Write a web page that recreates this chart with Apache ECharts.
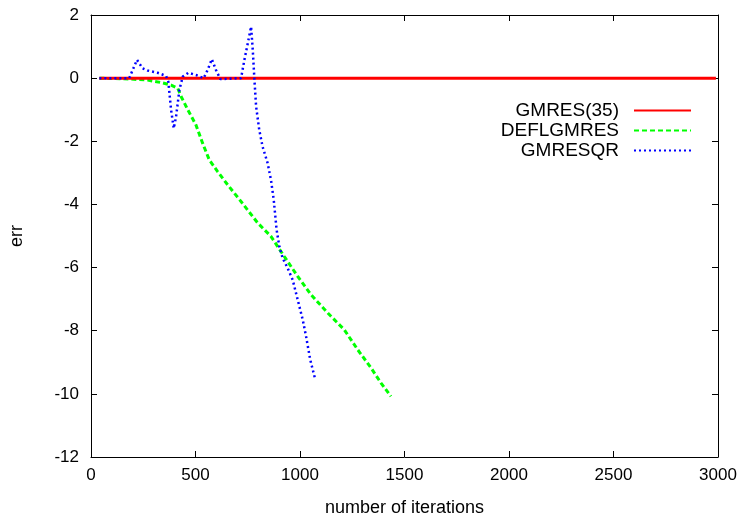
<!DOCTYPE html>
<html><head><meta charset="utf-8">
<script src="https://cdn.jsdelivr.net/npm/echarts@6/dist/echarts.min.js"></script>
<style>html,body{margin:0;padding:0;background:#fff}#c{width:745px;height:522px}</style>
</head><body><div id="c"></div>
<script>
const seriesNames = ["GMRES(35)", "DEFLGMRES", "GMRESQR"];
const gmresX = [40, 2990];
const gmresY = [0, 0];
const deflX = [40, 191, 271, 335, 383, 415, 431, 463, 502, 534, 566, 606, 654, 710, 798, 861, 925, 989, 1053, 1133, 1212, 1276, 1340, 1388, 1435];
const deflY = [0, -0.03, -0.06, -0.14, -0.22, -0.32, -0.58, -1.0, -1.48, -2.06, -2.59, -2.96, -3.38, -3.84, -4.59, -5.01, -5.65, -6.28, -6.86, -7.44, -7.97, -8.6, -9.18, -9.66, -10.08];
const qrX = [40, 183, 220, 247, 271, 319, 359, 370, 383, 396, 407, 423, 439, 466, 502, 539, 558, 578, 598, 619, 718, 734, 750, 766, 774, 782, 790, 805, 821, 845, 861, 874, 888, 901, 917, 941, 965, 989, 1013, 1029, 1049, 1072];
const qrY = [0, 0, 0.58, 0.31, 0.24, 0.17, 0.07, -0.11, -1.0, -1.59, -1.22, -0.37, 0.05, 0.17, 0.1, 0, 0.26, 0.6, 0.26, -0.03, 0, 0.58, 1.1, 1.63, 0.89, -0.06, -0.9, -1.64, -2.17, -2.69, -3.22, -3.83, -4.8, -5.33, -5.7, -6.02, -6.39, -7.02, -7.65, -8.18, -8.92, -9.52];
const xTicks = [0, 500, 1000, 1500, 2000, 2500, 3000];
const yTicks = [2, 0, -2, -4, -6, -8, -10, -12];

const zip = (xs, ys) => xs.map((x, i) => [x, ys[i]]);
const font = "Liberation Sans, Arial, sans-serif";
const chart = echarts.init(document.getElementById('c'), null, {renderer: 'canvas'});
const axisBase = {
  axisLine: {show: true, onZero: false, lineStyle: {color: '#000', width: 1}},
  axisTick: {show: true, inside: true, length: 6, lineStyle: {color: '#000'}},
  splitLine: {show: false}
};
chart.setOption({
  animation: false,
  backgroundColor: '#fff',
  grid: {left: 90, right: 27, top: 15, bottom: 65},
  xAxis: [
    Object.assign({}, axisBase, {
      type: 'value', min: xTicks[0], max: xTicks[xTicks.length - 1], interval: 500,
      name: 'number of iterations', nameLocation: 'middle', nameGap: 42,
      nameTextStyle: {fontSize: 18, color: '#000', fontFamily: font},
      axisLabel: {fontSize: 17, color: '#000', fontFamily: font, margin: 10, formatter: v => String(v)}
    }),
    Object.assign({}, axisBase, {
      type: 'value', position: 'top', min: xTicks[0], max: xTicks[xTicks.length - 1], interval: 500,
      axisLabel: {show: false}
    })
  ],
  yAxis: [
    Object.assign({}, axisBase, {
      type: 'value', min: yTicks[yTicks.length - 1], max: yTicks[0], interval: 2,
      name: 'err', nameLocation: 'middle', nameRotate: 90, nameGap: 65,
      nameTextStyle: {fontSize: 18, color: '#000', fontFamily: font},
      axisLabel: {fontSize: 17, color: '#000', fontFamily: font, margin: 12, formatter: v => String(v)}
    }),
    Object.assign({}, axisBase, {
      type: 'value', position: 'right', min: yTicks[yTicks.length - 1], max: yTicks[0], interval: 2,
      axisLabel: {show: false}
    })
  ],
  legend: {
    orient: 'vertical', right: 48, top: 96, align: 'right',
    itemWidth: 57, itemHeight: 12, itemGap: 1,
    itemStyle: {opacity: 0, borderWidth: 0},
    textStyle: {fontSize: 19, color: '#000', fontFamily: font, padding: [0, 10, 0, 0]},
    data: seriesNames
  },
  series: [
    {name: seriesNames[0], type: 'line', symbol: 'none', data: zip(gmresX, gmresY),
     lineStyle: {color: '#ff0000', width: 3}, itemStyle: {color: '#ff0000'}, z: 3},
    {name: seriesNames[1], type: 'line', symbol: 'none', data: zip(deflX, deflY),
     lineStyle: {color: '#00ff00', width: 3, type: [5, 3]}, itemStyle: {color: '#00ff00'}, z: 2},
    {name: seriesNames[2], type: 'line', symbol: 'none', data: zip(qrX, qrY),
     lineStyle: {color: '#0000ff', width: 2.5, type: [2, 3]}, itemStyle: {color: '#0000ff'}, z: 4}
  ]
});
</script></body></html>
